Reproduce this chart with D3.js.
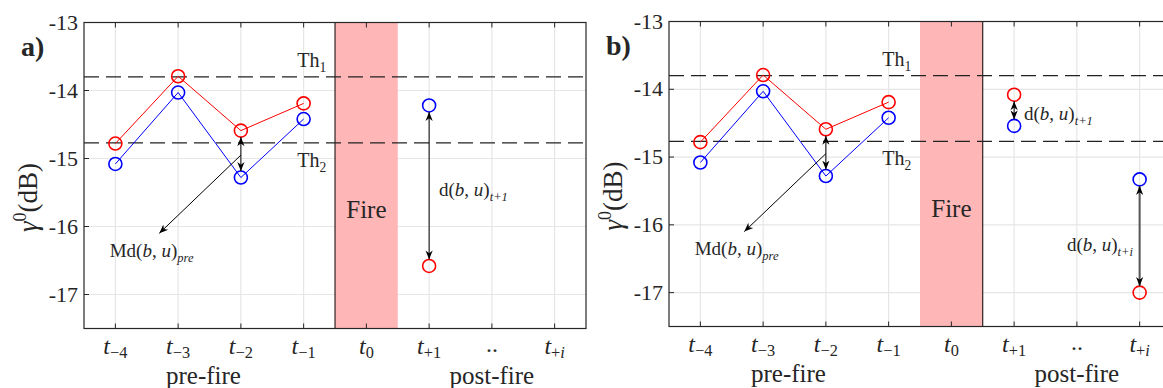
<!DOCTYPE html>
<html>
<head>
<meta charset="utf-8">
<script src="https://cdn.jsdelivr.net/npm/d3@7"></script>
<style>
  body { margin: 0; background: #fff; }
  svg text { font-family: "Liberation Serif", "Times New Roman", serif; fill: #262626; }
</style>
</head>
<body>
<svg id="chart" width="1163" height="388"></svg>
<script>
// x categories (main glyph + subscript)
const tickMain = ["t", "t", "t", "t", "t", "t", "..", "t"];
const tickSub = ["\u22124", "\u22123", "\u22122", "\u22121", "0", "+1", "", "+i"];
const yTicks = [-13, -14, -15, -16, -17];
const thresholds = [-13.8, -14.77];

// pre-fire series (same in both panels)
const preRed = [-14.78, -13.79, -14.59, -14.19];
const preBlue = [-15.08, -14.03, -15.28, -14.42];

// post-fire points: [category index, value]
const postRedA = [[5, -16.58]];
const postBlueA = [[5, -14.22]];
const postRedB = [[5, -14.08], [7, -17.0]];
const postBlueB = [[5, -14.54], [7, -15.33]];

const svg = d3.select("#chart");
const defs = svg.append("defs");
defs.append("marker").attr("id", "ah")
  .attr("viewBox", "0 0 10 10").attr("refX", 10).attr("refY", 5)
  .attr("markerWidth", 9).attr("markerHeight", 9).attr("markerUnits", "userSpaceOnUse")
  .attr("orient", "auto-start-reverse")
  .append("path").attr("d", "M0,1 L10,5 L0,9 L3,5 Z").attr("fill", "#000");

// main text + subscript; trailing "i" stays italic
function sub(t, main, subs, dy) {
  t.append("tspan").text(main);
  const s = t.append("tspan").attr("dy", dy || 5).attr("font-size", "0.68em").attr("font-style", "normal");
  if (subs.endsWith("i")) {
    s.text(subs.slice(0, -1));
    t.append("tspan").attr("font-size", "0.68em").attr("font-style", "italic").text("i");
  } else s.text(subs);
}

function dLabel(t, prefix, subs) {
  t.append("tspan").text(prefix + "(");
  t.append("tspan").attr("font-style", "italic").text("b");
  t.append("tspan").text(", ");
  t.append("tspan").attr("font-style", "italic").text("u");
  t.append("tspan").text(")");
  t.append("tspan").attr("dy", 5).attr("font-size", "0.66em").attr("font-style", "italic").text(subs);
}

function panel(o) {
  const x = d3.scaleLinear().domain([-0.5, 7.5]).range([o.left, o.left + 502]);
  const y = d3.scaleLinear().domain([-13, -17.5]).range([o.top, o.bottom]);
  const g = svg.append("g");

  // grid
  g.selectAll(".gx").data(d3.range(8)).join("line")
    .attr("x1", d => x(d)).attr("x2", d => x(d)).attr("y1", o.top).attr("y2", o.bottom)
    .attr("stroke", "#e6e6e6").attr("stroke-width", 1.2);
  g.selectAll(".gy").data(yTicks).join("line")
    .attr("x1", o.left).attr("x2", o.left + 502).attr("y1", d => y(d)).attr("y2", d => y(d))
    .attr("stroke", "#e6e6e6").attr("stroke-width", 1.2);

  // fire band
  g.append("rect").attr("x", x(3.5)).attr("y", o.top).attr("width", x(4.5) - x(3.5))
    .attr("height", o.bottom - o.top).attr("fill", "#ffb6b6");
  const fx = o.fireLineRight ? x(4.5) : x(3.5);
  g.append("line").attr("x1", fx).attr("x2", fx).attr("y1", o.top).attr("y2", o.bottom)
    .attr("stroke", "#000").attr("stroke-width", 1);
  g.append("text").attr("x", x(4)).attr("y", y(-15.88)).attr("text-anchor", "middle")
    .attr("font-size", 25).attr("fill", "#111").text("Fire");

  // thresholds
  g.selectAll(".th").data(thresholds).join("line")
    .attr("x1", o.left).attr("x2", o.left + 502).attr("y1", d => y(d)).attr("y2", d => y(d))
    .attr("stroke", "#222").attr("stroke-width", 1.3).attr("stroke-dasharray", "15,7");
  sub(g.append("text").attr("x", x(3.13)).attr("y", y(thresholds[0]) - 10)
    .attr("text-anchor", "middle").attr("font-size", 20), "Th", "1", 5);
  sub(g.append("text").attr("x", x(3.13)).attr("y", y(thresholds[1]) + 24)
    .attr("text-anchor", "middle").attr("font-size", 20), "Th", "2", 5);

  // pre-fire lines & markers
  const line = d3.line().x((d, i) => x(i)).y(d => y(d));
  [[preRed, "#ff0000"], [preBlue, "#0000ff"]].forEach(([s, c]) => {
    g.append("path").attr("d", line(s)).attr("fill", "none").attr("stroke", c).attr("stroke-width", 1);
  });
  const circles = (pts, c) => g.selectAll(null).data(pts).join("circle")
    .attr("cx", d => x(d[0])).attr("cy", d => y(d[1])).attr("r", 6.5)
    .attr("fill", "none").attr("stroke", c).attr("stroke-width", 1.6);
  circles(preRed.map((v, i) => [i, v]), "#ff0000");
  circles(preBlue.map((v, i) => [i, v]), "#0000ff");
  circles(o.postRed, "#ff0000");
  circles(o.postBlue, "#0000ff");

  // double arrow at t-2
  g.append("line").attr("x1", x(2)).attr("x2", x(2))
    .attr("y1", y(preRed[2]) + 6.5).attr("y2", y(preBlue[2]) - 6.5)
    .attr("stroke", "#000").attr("stroke-width", 1)
    .attr("marker-start", "url(#ah)").attr("marker-end", "url(#ah)");
  // Md arrow
  g.append("line").attr("x1", x(2)).attr("x2", x(0.7))
    .attr("y1", y(-14.95)).attr("y2", y(-16.1))
    .attr("stroke", "#000").attr("stroke-width", 1).attr("marker-end", "url(#ah)");
  dLabel(g.append("text").attr("x", x(-0.09)).attr("y", o.mdY).attr("font-size", 19), "Md", "pre");

  // post-fire double arrows
  o.postRed.forEach((r, i) => {
    const b = o.postBlue[i];
    const top = Math.max(r[1], b[1]), bot = Math.min(r[1], b[1]);
    g.append("line").attr("x1", x(r[0])).attr("x2", x(r[0]))
      .attr("y1", y(top) + 6.5).attr("y2", y(bot) - 6.5)
      .attr("stroke", i === 1 ? "#555" : "#000").attr("stroke-width", i === 1 ? 2 : 1)
      .attr("marker-start", "url(#ah)").attr("marker-end", "url(#ah)");
  });
  o.dLabels.forEach(l => {
    dLabel(g.append("text").attr("x", l.x).attr("y", l.y).attr("font-size", 19)
      .attr("text-anchor", l.anchor || "start"), "d", l.sub);
  });

  // axes box and ticks
  const axc = "#262626";
  g.append("rect").attr("x", o.left).attr("y", o.top).attr("width", 502).attr("height", o.bottom - o.top)
    .attr("fill", "none").attr("stroke", axc).attr("stroke-width", 1.2);
  g.selectAll(".xt").data(d3.range(8)).join("path")
    .attr("d", d => `M${x(d)},${o.top}v5M${x(d)},${o.bottom}v-5`).attr("stroke", axc);
  g.selectAll(".yt").data(yTicks).join("path")
    .attr("d", d => `M${o.left},${y(d)}h5`).attr("stroke", axc);

  g.selectAll(".yl").data(yTicks).join("text")
    .attr("x", o.left - 6).attr("y", d => y(d) + 7).attr("text-anchor", "end")
    .attr("font-size", 22).text(d => "-" + Math.abs(d));

  tickMain.forEach((m, i) => {
    const t = g.append("text").attr("x", x(i)).attr("y", o.bottom + 25)
      .attr("text-anchor", "middle").attr("font-size", 24).attr("font-style", "italic");
    if (tickSub[i]) sub(t, m, tickSub[i], 4);
    else t.attr("font-style", null).attr("y", o.bottom + 23).text(m);
  });
  g.append("text").attr("x", (x(1) + x(2)) / 2 - 6).attr("y", o.bottom + 55)
    .attr("text-anchor", "middle").attr("font-size", 25).attr("fill", "#000").text("pre-fire");
  g.append("text").attr("x", x(6)).attr("y", o.bottom + 55)
    .attr("text-anchor", "middle").attr("font-size", 25).attr("fill", "#000").text("post-fire");

  // y label
  const yl = g.append("text").attr("transform", `translate(${o.left - 47},${(o.top + o.bottom) / 2 + 22}) rotate(-90)`)
    .attr("text-anchor", "middle").attr("font-size", 27);
  yl.append("tspan").attr("font-style", "italic").text("\u03b3");
  yl.append("tspan").attr("dy", -11).attr("font-size", 18).text("0");
  yl.append("tspan").attr("dy", 11).text("(dB)");

  g.append("text").attr("x", o.left - 63).attr("y", o.top + 33).attr("font-size", 28)
    .attr("font-weight", "bold").attr("fill", "#000").text(o.tag);
}

panel({ left: 84, top: 22.5, bottom: 328.5, tag: "a)", fireLineRight: false,
  postRed: postRedA, postBlue: postBlueA, mdY: 257,
  dLabels: [{ x: 439, y: 196, sub: "t+1" }] });
panel({ left: 669, top: 21.5, bottom: 326.5, tag: "b)", fireLineRight: true,
  postRed: postRedB, postBlue: postBlueB, mdY: 255,
  dLabels: [{ x: 1024, y: 120, sub: "t+1" }, { x: 1133, y: 251, sub: "t+i", anchor: "end" }] });
</script>
</body>
</html>
